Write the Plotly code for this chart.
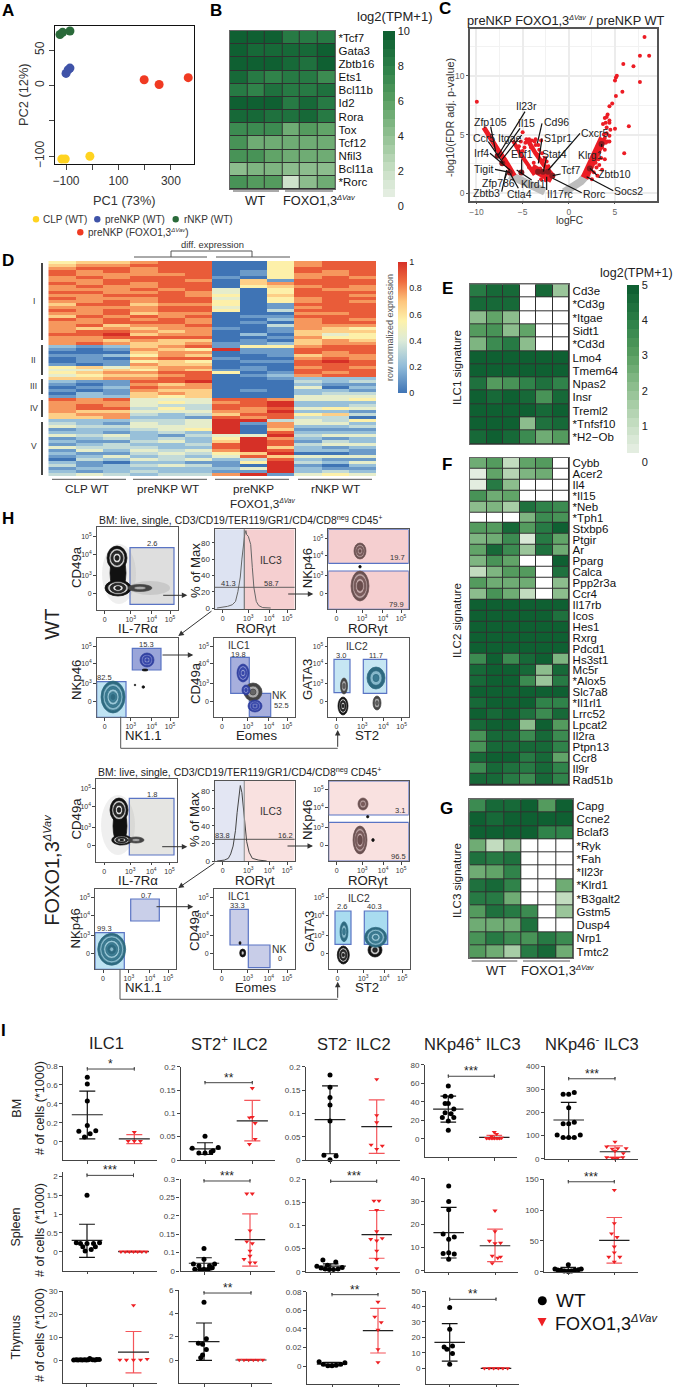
import numpy as np
import plotly.graph_objects as go

W, H = 676, 1387
FONT = "Liberation Sans"
DV = "<sup><i>ΔVav</i></sup>"


def dv(px):
    return '<sup><span style="font-size:%gpx"><i>ΔVav</i></span></sup>' % px


# ---------- Panel A ----------
pca_groups = ["CLP", "preNKP", "rNKP", "preNKP_FOXO"]
pc1_clp = [-116, -103, -9]; pc2_clp = [-104, -104, -100]
pc1_pre = [-100, -92, -85]; pc2_pre = [17, 22, 24.5]
pc1_rnk = [-123, -113, -85]; pc2_rnk = [72, 75, 77]
pc1_fox = [198, 255, 366]; pc2_fox = [8, 1.4, 11]

# ---------- Panel B ----------
b_genes = ["*Tcf7", "Gata3", "Zbtb16", "Ets1", "Bcl11b", "Id2", "Rora", "Tox", "Tcf12", "Nfil3", "Bcl11a", "*Rorc"]
b_vals = [[9.8, 9.7, 9.8, 8.3, 8.4, 8.4], [9.7, 9.3, 9.2, 9.4, 9.3, 9.9], [9.8, 9.9, 9.8, 9.3, 8.7, 9.5],
          [9.0, 8.2, 7.9, 8.1, 8.0, 7.3], [8.2, 7.7, 8.5, 8.4, 8.0, 8.5], [9.9, 10, 9.7, 8.0, 9.0, 8.4],
          [9.0, 9.0, 8.8, 8.6, 9.0, 8.0], [7.0, 7.2, 7.0, 5.2, 6.4, 5.8], [6.6, 5.2, 5.4, 5.4, 5.3, 5.0],
          [6.6, 6.6, 5.8, 5.3, 5.4, 5.2], [4.3, 4.8, 4.7, 4.2, 4.0, 4.4], [6.6, 6.3, 6.2, 1.5, 4.4, 5.2]]

# ---------- Panel C ----------
volc_right_x = [8.2, 7.7, 8.7, 5.9, 7.0, 5.2, 5.1, 5.0, 7.7, 5.8, 5.1, 4.7, 4.4, 6.5, 6.0, 4.1, 3.9, 4.2, 4.4, 4.0, 4.4, 3.7, 4.1, 4.5, 5.0, 4.1, 4.4, 3.8, 3.9, 4.2, 4.0, 3.5, 3.9, 3.3, 3.6, 3.1, 2.9, 4.4, 3.3, 2.5, 3.9, 3.6, 3.2, 3.0, 2.7]
volc_right_y = [13.3, 11.7, 11.7, 11.0, 10.8, 10.0, 9.86, 9.6, 9.46, 8.64, 8.27, 7.65, 7.4, 5.7, 3.4, 6.5, 6.4, 6.7, 6.2, 6.0, 6.0, 5.9, 5.6, 5.4, 5.5, 5.1, 4.9, 5.0, 4.7, 4.4, 4.3, 3.0, 2.9, 2.4, 2.0, 1.5, 2.6, 4.4, 3.5, 1.2, 3.7, 3.9, 2.9, 2.2, 1.8]
volc_left_x = [-9.96, -5.0, -4.6, -4.3, -4.0, -3.7, -3.6, -3.3, -3.2, -2.9, -4.7, -5.2, -5.4, -3.0, -3.6, -2.6, -2.4, -2.2, -5.0, -3.0, -2.5, -4.3, -4.8, -4.1, -3.4, -2.8, -3.8, -3.1, -2.3]
volc_left_y = [7.8, 5.2, 4.6, 4.6, 4.5, 4.4, 4.1, 4.1, 3.7, 3.4, 4.3, 4.4, 4.0, 4.5, 4.6, 3.0, 2.7, 2.3, 3.6, 1.2, 1.1, 2.2, 3.9, 3.9, 3.3, 2.8, 2.6, 2.1, 1.9]
volc_dark_x = [3.55, 2.28, -1.78, -2.25, -2.8, -3.33, -5.14, -6.4, -7.2, -7.7]
volc_dark_y = [4.2, 2.1, 1.5, 1.84, 1.84, 1.84, 1.76, 1.78, 2.55, 3.2]
band_a_x = [-9.2, -8.4, -7.6, -6.9, -6.3, -5.9]; band_a_y = [5.6, 4.5, 3.6, 2.8, 2.1, 1.5]
band_b_x = [-6.05, -5.2, -4.4, -3.7]; band_b_y = [4.5, 3.3, 2.4, 1.56]
band_c_x = [-4.5, -3.6, -2.7, -1.7]; band_c_y = [4.6, 3.4, 2.4, 1.5]
band_d_x = [-4.0, -3.2, -2.4, -1.8]; band_d_y = [2.2, 1.8, 1.5, 1.2]
band_e_x = [1.7, 2.2, 2.8, 3.3, 3.7]; band_e_y = [1.3, 2.2, 3.3, 4.2, 4.7]
gray_l_x = [-6.4, -5.0, -3.8, -2.6]; gray_l_y = [1.55, 1.0, 0.5, 0.15]
gray_r_x = [-0.5, 0.5, 1.3, 2.1]; gray_r_y = [0.1, 0.5, 1.0, 1.7]
volc_labels = ["Il23r", "Zfp105", "Il15", "Cd96", "Cxcr5", "Ccr5", "Itgae", "S1pr1", "Irf4", "Ebf1", "Stat4", "Klrg1", "Tigit", "Tcf7", "Zbtb10", "Zfp786", "Klrd1", "Zbtb3", "Ctla4", "Il17rc", "Rorc", "Socs2"]

# ---------- Panel D ----------
d_block1 = ["566 788 005 788", "677 888 005 788", "788 788 005 888", "878 788 015 878", "877 778 015 778", "787 888 105 787",
            "778 887 061 888", "878 788 067 888", "787 788 056 787", "777 878 405 877", "887 787 405 888", "778 887 506 887",
            "877 788 405 788", "778 788 505 787", "688 677 501 888", "777 788 401 788", "878 788 503 888", "778 677 000 778",
            "687 878 011 888", "878 787 002 787", "778 887 010 788", "786 778 003 777", "767 677 101 765", "788 767 001 666",
            "889 677 020 645", "778 888 001 755", "776 766 010 676", "787 667 112 677"]
d_block2 = ["212 678 155 788", "101 765 911 888", "000 677 011 878", "112 576 001 677", "010 788 100 787", "011 565 011 898",
            "101 766 000 888", "564 677 010 787", "446 576 110 888", "567 788 501 878", "456 678 012 788"]
d_block3 = ["667 788 001 222", "211 889 000 323", "101 767 000 211", "012 877 000 402", "101 766 010 221", "021 676 000 233", "122 656 000 444"]
d_block4 = ["878 444 887 445", "777 454 789 222", "787 433 889 223", "788 353 878 454", "766 444 779 221", "677 323 688 563", "667 221 878 330"]
d_block5 = ["222 334 993 435", "321 434 917 442", "433 444 907 223", "122 345 906 111", "221 232 908 222", "434 213 449 344",
            "123 232 597 212", "211 342 698 132", "123 223 898 344", "433 322 896 212", "142 434 798 221", "211 343 569 001",
            "124 232 486 444", "032 434 238 211", "210 221 159 324", "312 343 109 102", "122 222 249 211", "212 322 119 232", "343 233 791 454"]

# ---------- Panels E, F, G ----------
e_genes = ["Cd3e", "*Cd3g", "*Itgae", "Sidt1", "*Cd3d", "Lmo4", "Tmem64", "Npas2", "Insr", "Treml2", "*Tnfsf10", "*H2−Ob"]
e_vals = [[4.1, 4.6, 4.5, 0, 4.6, 1.8], [4.6, 4.6, 4.6, 0, 0, 0], [2.2, 2.9, 2.2, 0, 0, 0], [3.0, 3.4, 2.2, 2.8, 0, 0],
          [2.4, 3.5, 4.2, 2.1, 0, 0], [4.9, 4.9, 4.9, 4.8, 4.9, 4.9], [4.8, 4.9, 4.9, 4.8, 4.9, 4.9], [4.4, 3.2, 3.3, 3.8, 4.3, 3.8],
          [4.9, 4.7, 4.8, 4.6, 3.4, 4.6], [5, 5, 5, 4.9, 4.6, 4.8], [4.8, 4.8, 4.8, 2, 4.3, 4.7], [4.7, 4.8, 4.7, 3.5, 2.6, 3.2]]
f_genes = ["Cybb", "Acer2", "Il4", "*Il15", "*Neb", "*Tph1", "Stxbp6", "Ptgir", "Ar", "Pparg", "Calca", "Ppp2r3a", "Ccr4", "Il17rb", "Icos",
           "Hes1", "Rxrg", "Pdcd1", "Hs3st1", "Mc5r", "*Alox5", "Slc7a8", "*Il1rl1", "Lrrc52", "Lpcat2", "Il2ra", "Ptpn13", "Ccr8", "Il9r", "Rad51b"]
f_vals = [[2.6, 3.2, 1.0, 2.8, 3.1, 0], [0.3, 2.8, 1.4, 2.3, 2.5, 0], [0.3, 4.0, 2.2, 0, 0, 0], [3.4, 2.5, 2.9, 0, 0, 0],
          [2.2, 2.4, 1.5, 4.3, 3.8, 3.6], [0, 0, 0, 2.4, 3.7, 3.3], [3.0, 3.2, 4.5, 3.0, 4.1, 4.9], [2.3, 2.6, 3.6, 0.5, 4.1, 2.9],
          [2.9, 4.6, 3.6, 1.9, 4.4, 2.7], [2.4, 3.4, 2.8, 0, 0, 4.8], [1.0, 2.4, 3.2, 3.0, 0, 4.4], [3.0, 2.7, 2.7, 2.6, 0, 2.0],
          [2.0, 3.4, 2.7, 1.2, 0, 2.1], [4.8, 4.8, 4.8, 4.8, 4.8, 4.8], [4.9, 4.9, 4.9, 4.8, 4.9, 4.4], [4.9, 4.9, 4.9, 4.8, 4.9, 4.9],
          [4.9, 4.9, 4.9, 4.9, 4.9, 4.8], [4.8, 4.8, 4.9, 4.8, 4.9, 4.8], [3.5, 4.8, 3.5, 4.7, 4.8, 2.4], [4.7, 4.8, 4.8, 4.5, 2.2, 4.7],
          [4.7, 4.8, 4.8, 3.5, 1.8, 4.0], [4.9, 4.9, 4.9, 4.8, 4.8, 4.8], [4.7, 4.8, 4.8, 4.8, 3.8, 3.9], [4.8, 4.7, 4.8, 4.4, 3.6, 4.6],
          [4.7, 4.8, 4.8, 2.2, 4.8, 3.0], [3.4, 4.7, 4.7, 3.7, 4.7, 3.6], [3.4, 4.7, 4.7, 4.7, 4.7, 3.8], [4.7, 4.8, 4.8, 4.1, 4.7, 2.8],
          [3.7, 4.6, 4.3, 4.1, 4.7, 3.8], [4.5, 4.5, 4.0, 3.5, 4.6, 3.8]]
g_genes = ["Capg", "Ccne2", "Bclaf3", "*Ryk", "*Fah", "*Il23r", "*Klrd1", "*B3galt2", "Gstm5", "Dusp4", "Nrp1", "Tmtc2"]
g_vals = [[3.5, 4.7, 4.7, 4.8, 3.0, 4.8], [4.8, 4.5, 4.8, 4.8, 4.8, 4.8], [4.8, 4.8, 4.8, 4.8, 3.9, 3.9], [2.6, 1.2, 2.0, 0, 0, 0],
          [4.4, 4.2, 4.4, 0, 0, 0], [2.6, 2.8, 3.9, 0, 0, 0], [4.4, 4.6, 3.8, 0, 0, 2.6], [4.1, 4.0, 2.5, 0, 0, 1.2],
          [3.2, 4.4, 4.0, 3.6, 0, 1.8], [2.6, 2.7, 2.5, 4.4, 0, 0], [3.4, 4.1, 3.5, 3.3, 4.0, 3.6], [3.2, 2.6, 1.6, 4.1, 4.7, 2.6]]

# ---------- Panel H histograms ----------
hist_wt_x = [.03, .10, .16, .22, .26, .29, .32, .34, .36, .375, .39, .40, .42, .45, .47, .49, .52, .55, .6, .7]
hist_wt_y = [0, 1, 2, 4, 8, 20, 38, 60, 78, 90, 95, 90, 88, 78, 50, 25, 8, 3, .5, 0]
hist_ko_x = [.03, .12, .17, .2, .23, .26, .28, .30, .31, .32, .34, .36, .38, .40, .43, .47, .55, .65]
hist_ko_y = [0, 1, 3, 8, 17, 35, 55, 75, 85, 86, 78, 60, 40, 22, 10, 3, 1, 0]

# ---------- Panel I: offsets from category and values; stats = mean, upper, lower ----------
bm_ilc1_wt_off = [0, 0, 0, 0, -.18, .18, .06, -.06]; bm_ilc1_wt_y = [.68, .61, .43, .17, .11, .115, .085, .05]
bm_ilc1_ko_off = [0, -.13, 0, .13]; bm_ilc1_ko_y = [.1, .007, .007, .007]
bm_ilc1_stats = [[.285, .535, .03], [.03, .075, -.02]]
bm_st2p_wt_off = [-.27, -.13, 0, .13, .28, 0, .17]; bm_st2p_wt_y = [.025, .015, .015, .017, .027, .051, .02]
bm_st2p_ko_off = [0, -.06, .06, 0, .06, -.06]; bm_st2p_ko_y = [.154, .091, .079, .092, .045, .034]
bm_st2p_stats = [[.024, .037, .012], [.084, .128, .041]]
bm_st2n_wt_off = [0, 0, 0, 0, 0, -.13, .13, 0]; bm_st2n_wt_y = [.182, .156, .134, .118, .084, .011, .009, .001]
bm_st2n_ko_off = [0, 0, 0, -.12, .12, 0]; bm_st2n_ko_y = [.173, .096, .081, .033, .031, .024]
bm_st2n_stats = [[.087, .159, .014], [.072, .129, .015]]
bm_nkp_wt_off = [0, -.07, .06, -.07, 0, .12, .06, -.07, -.13, .12, 0, 0]; bm_nkp_wt_y = [57, 46, 46, 38, 38, 32, 27, 28, 23, 23, 19, 9]
bm_nkp_ko_off = [0, .05, -.06, -.17, -.11, -.05, 0, .06, .11, .16]; bm_nkp_ko_y = [7, 5, 2.5, .5, .4, .4, .4, .4, .4, 1]
bm_nkp_stats = [[32, 46, 18], [1.5, 3.6, -.4]]
bm_nkn_wt_off = [.12, -.12, 0, 0, -.12, .12, 0, -.25, .25, -.12, 0, .12]; bm_nkn_wt_y = [286, 278, 278, 220, 151, 157, 151, 102, 102, 92, 92, 92]
bm_nkn_ko_off = [0, -.18, .24, -.06, .06, .18, 0, -.18, -.06, 0, .06, .17]; bm_nkn_ko_y = [73, 52, 45, 42, 44, 23, 33, 6, 3, 0, 3, 6]
bm_nkn_stats = [[167, 243, 90], [30, 55, 6]]
sp_ilc1_wt_off = [0, -.23, -.14, 0, .14, .27, -.09, .18, .09, -.04]; sp_ilc1_wt_y = [1.5, .24, .22, .22, .22, .24, .13, .13, .06, .02]
sp_ilc1_ko_off = [-.27, -.18, -.09, 0, .09, .18, .27]; sp_ilc1_ko_y = [0, 0, 0, 0, 0, 0, 0]
sp_ilc1_stats = [[.30, .73, -.15], [0, .01, -.01]]
sp_st2p_wt_off = [0, 0, -.23, .23, -.11, .12, -.2, -.09, 0, .09, .18]; sp_st2p_wt_y = [.111, .082, .069, .069, .064, .064, .055, .055, .055, .055, .059]
sp_st2p_ko_off = [-.07, .05, 0, -.07, .05, 0, 0, -.13, .11, 0]; sp_st2p_ko_y = [.26, .26, .16, .13, .125, .091, .105, .082, .073, .073]
sp_st2p_stats = [[.071, .086, .053], [.135, .205, .063]]
sp_st2n_wt_off = [-.17, -.3, .11, -.21, -.12, -.03, .06, .16, .25, -.07]; sp_st2n_wt_y = [.025, .012, .021, .008, .006, .005, .005, .006, .009, .014]
sp_st2n_ko_off = [-.06, .05, 0, 0, -.13, .12, 0, 0, 0, 0]; sp_st2n_ko_y = [.153, .153, .133, .087, .07, .072, .067, .045, .027, .007]
sp_st2n_stats = [[.012, .017, .004], [.08, .132, .029]]
sp_nkp_wt_off = [0, 0, 0, -.12, .12, 0, -.12, 0, .12, 0]; sp_nkp_wt_y = [36.7, 30, 26.4, 15.9, 14.6, 13.6, 7.5, 7.8, 7.2, 5]
sp_nkp_ko_off = [0, 0, -.12, 0, .12, -.06, .12, .06, -.06]; sp_nkp_ko_y = [26, 17, 12.9, 11.8, 12, 6.4, 6, 5.5, 3.2]
sp_nkp_stats = [[16.5, 27.4, 5.5], [10.8, 18, 3.9]]
sp_nkn_wt_off = [0, -.29, .28, -.23, -.16, -.09, 0, .07, .14, .22]; sp_nkn_wt_y = [11.4, 4.3, 4.3, 2.8, 2.2, 1, .5, 1, 2.2, 3.3]
sp_nkn_ko_off = [0, 0, -.06, .06, 0, 0, -.12, .12, 0]; sp_nkn_ko_y = [132.6, 78.5, 62, 56, 40.6, 31, 24, 24, 16]
sp_nkn_stats = [[3.8, 7, .5], [51, 88, 14]]
th_ilc1_wt_off = [-.27, -.22, -.18, -.13, -.09, -.04, 0, .04, .07, .13, .18, .22, .27]; th_ilc1_wt_y = [0, .1, 0, .1, 0, .1, 0, .1, .7, .1, 0, .2, .2]
th_ilc1_ko_off = [0, -.29, -.15, 0, .15, .29]; th_ilc1_ko_y = [23.8, .1, 0, 0, .1, .4]
th_ilc1_stats = [[0, .3, -.3], [3.4, 12.4, -5.6]]
th_st2p_wt_off = [0, .05, -.12, -.03, .05, -.03, -.07]; th_st2p_wt_y = [4.95, 1.83, 1.43, 1.34, .91, .43, .2]
th_st2p_ko_off = [-.25, -.15, -.05, .05, .15, .25]; th_st2p_ko_y = [0, 0, 0, 0, 0, 0]
th_st2p_stats = [[1.57, 3.17, -.03], [0, .01, -.01]]
th_st2n_wt_off = [-.28, .28, -.19, -.09, 0, .09, .19]; th_st2n_wt_y = [.0047, .0036, .002, .0004, .0002, .0007, .0018]
th_st2n_ko_off = [0, -.07, .07, 0, 0, 0]; th_st2n_ko_y = [.069, .053, .047, .039, .018, .004]
th_st2n_stats = [[.002, .004, .0004], [.038, .062, .014]]
th_nkp_wt_off = [0, 0, -.12, -.06, .06, .06, 0]; th_nkp_wt_y = [39.4, 25.2, 13.8, 12.3, 14.4, 9.5, 2.6]
th_nkp_ko_off = [-.25, -.15, -.05, .05, .15, .25]; th_nkp_ko_y = [0, 0, 0, 0, 0, 0]
th_nkp_stats = [[16.8, 28.9, 4.7], [0, .3, -.3]]

# ---------- helpers ----------
X = lambda p: p / W
Y = lambda p: 1 - p / H
fig = go.Figure()
layout_axes = {}
shapes = []
annots = []
_n = [0]


def new_axes(x0, x1, y0, y1, xo, yo):
    _n[0] += 1
    i = _n[0]
    s = "" if i == 1 else str(i)
    layout_axes["xaxis" + s] = dict(domain=[X(x0), X(x1)], anchor="y" + s, zeroline=False, showgrid=False, automargin=False, **xo)
    layout_axes["yaxis" + s] = dict(domain=[Y(y1), Y(y0)], anchor="x" + s, zeroline=False, showgrid=False, automargin=False, **yo)
    return "x" + s, "y" + s


def T(text, x, y, size=10, color="#222", anchor="left", rot=0, bold=False):
    if bold:
        text = "<b>" + text + "</b>"
    annots.append(dict(text=text, x=X(x), y=Y(y), xref="paper", yref="paper", showarrow=False, xanchor=anchor,
                       yanchor="middle", textangle=rot, font=dict(size=size, color=color, family=FONT)))


def L(x0, y0, x1, y1, color="#333", w=1.0):
    shapes.append(dict(type="line", x0=X(x0), x1=X(x1), y0=Y(y0), y1=Y(y1), xref="paper", yref="paper",
                       line=dict(color=color, width=w), layer="above"))


def arrow(x0, y0, x1, y1):
    annots.append(dict(x=X(x1), y=Y(y1), xref="paper", yref="paper", ax=x0 - x1, ay=y0 - y1, axref="pixel", ayref="pixel",
                       text="", showarrow=True, arrowhead=2, arrowsize=1.1, arrowwidth=1, arrowcolor="#333"))


def green_scale():
    anchors = [(0.05, "#e9f0e6"), (0.2, "#c9e0c6"), (0.4, "#94c294"), (0.6, "#5aa062"), (0.8, "#2b7f47"), (1.0, "#0c5c30")]
    ts = [a[0] for a in anchors]
    cs = np.array([[int(a[1][i:i + 2], 16) for i in (1, 3, 5)] for a in anchors])
    n = 20
    out = []
    for k in range(n):
        a, b = k / n, (k + 1) / n
        if k == 0:
            col = "#ffffff"
        else:
            c = [int(np.interp((a + b) / 2, ts, cs[:, j])) for j in range(3)]
            col = "rgb(%d,%d,%d)" % tuple(c)
        out += [[a, col], [b, col]]
    return out


GREENS = green_scale()


def colorbar(x0, x1, yt, yb, ticks, size):
    return dict(x=X(x0), xanchor="left", y=Y(yb), yanchor="bottom", lenmode="pixels", len=yb - yt,
                thicknessmode="pixels", thickness=x1 - x0, xpad=0, ypad=0, outlinewidth=0, ticks="",
                tickvals=ticks, tickfont=dict(size=size, color="#222", family=FONT))


def heat(vals, genes, x0, x1, y0, y1, zmax, size, cbar=None):
    xa, ya = new_axes(x0, x1, y0, y1,
                      dict(range=[-.5, 5.5], showticklabels=False, ticks="", showline=True, mirror=True, linecolor="#666", linewidth=1),
                      dict(range=[len(genes) - .5, -.5], side="right", tickvals=list(range(len(genes))), ticktext=genes, ticks="",
                           tickfont=dict(size=size, color="#111", family=FONT), showline=True, mirror=True, linecolor="#666", linewidth=1))
    shapes.append(dict(type="rect", x0=X(x0), x1=X(x1), y0=Y(y1), y1=Y(y0), xref="paper", yref="paper",
                       fillcolor="#303030", line=dict(width=0), layer="below"))
    fig.add_trace(go.Heatmap(z=vals, xaxis=xa, yaxis=ya, colorscale=GREENS, zmin=0, zmax=zmax, xgap=1, ygap=1,
                             hoverinfo="skip", showscale=cbar is not None, colorbar=cbar))


# ---------- A ----------
xa, ya = new_axes(55, 194, 26, 164,
                  dict(range=[-142, 388], tickvals=[-100, 0, 100, 200, 300], ticktext=["−100", " ", "100", " ", "300"], ticks="outside", ticklen=5,
                       showline=True, mirror=True, linecolor="#111", linewidth=1.3, tickfont=dict(size=12, color="#333", family=FONT)),
                  dict(range=[-111, 84], tickvals=[-100, -50, 0, 50], ticktext=["−100", " ", "0", "50"], ticks="outside", ticklen=5, tickangle=-90,
                       showline=True, mirror=True, linecolor="#111", linewidth=1.3, tickfont=dict(size=12, color="#333", family=FONT)))
for px_, py_, c in [(pc1_clp, pc2_clp, "#ffd320"), (pc1_pre, pc2_pre, "#3f53a8"), (pc1_rnk, pc2_rnk, "#2a6a3a"), (pc1_fox, pc2_fox, "#f03a22")]:
    fig.add_trace(go.Scatter(x=px_, y=py_, xaxis=xa, yaxis=ya, mode="markers", marker=dict(size=9, color=c), hoverinfo="skip", cliponaxis=False))
T("PC1 (73%)", 124, 201, 12.8, "#333", "center")
T("PC2 (12%)", 23, 95, 12.8, "#333", "center", -90)
for cx, cy, c, tx, s in [(36, 219.3, "#ffd320", 40.7, "CLP (WT)"), (97.3, 219.3, "#3f53a8", 102.7, "preNKP (WT)"),
                         (175.7, 219.3, "#2a6a3a", 181.7, "rNKP (WT)"), (80.3, 232.3, "#f03a22", 86, "preNKP (FOXO1,3" + dv(6) + ")")]:
    shapes.append(dict(type="circle", x0=X(cx - 3.2), x1=X(cx + 3.2), y0=Y(cy + 3.2), y1=Y(cy - 3.2), xref="paper", yref="paper",
                       fillcolor=c, line=dict(width=0)))
    T(s, tx, cy, 10, "#333")

# ---------- B ----------
heat(b_vals, b_genes, 229.7, 335.3, 31, 189, 10, 11.5, colorbar(383, 395, 31, 205.7, [0, 2, 4, 6, 8, 10], 11))
L(233, 191, 279, 191, "#555", 1); L(285, 191, 333, 191, "#555", 1)
T("WT", 255, 200, 13, "#222", "center")
T("FOXO1,3" + dv(7.5), 281, 200, 12.8, "#222")
T("log2(TPM+1)", 355, 16, 13)

# ---------- C ----------
grid_col = "#ececec"
xa, ya = new_axes(470, 657, 29, 200.7,
                  dict(range=[-10.7, 9.55], tickvals=[-10, -5, 0, 5], ticktext=["−10", "−5", "0", "5"], ticks="outside", ticklen=2, showline=True, mirror=True,
                       linecolor="#555", linewidth=1.5, tickfont=dict(size=8.5, color="#666", family=FONT), tickcolor="#555"),
                  dict(range=[-0.63, 13.98], tickvals=[0, 5, 10], ticks="outside", ticklen=2, showline=True, mirror=True,
                       linecolor="#555", linewidth=1.5, tickfont=dict(size=8.5, color="#666", family=FONT), tickcolor="#555"))
layout_axes[xa.replace("x", "xaxis")].update(showgrid=True, gridcolor=grid_col, gridwidth=1.6, minor=dict(showgrid=True, gridcolor="#f2f2f2", gridwidth=.8, tickvals=[-7.5, -2.5, 2.5, 7.5]))
layout_axes[ya.replace("y", "yaxis")].update(showgrid=True, gridcolor=grid_col, gridwidth=1.6, minor=dict(showgrid=True, gridcolor="#f2f2f2", gridwidth=.8, tickvals=[2.5, 7.5, 12.5]))
for bx, by in [(gray_l_x, gray_l_y), (gray_r_x, gray_r_y)]:
    fig.add_trace(go.Scatter(x=bx, y=by, xaxis=xa, yaxis=ya, mode="lines", line=dict(color="#bdbdbd", width=8), hoverinfo="skip"))
for bx, by, w in [(band_a_x, band_a_y, 5), (band_b_x, band_b_y, 4), (band_c_x, band_c_y, 4.5), (band_d_x, band_d_y, 8), (band_e_x, band_e_y, 8)]:
    fig.add_trace(go.Scatter(x=bx, y=by, xaxis=xa, yaxis=ya, mode="lines", line=dict(color="#ec1c24", width=w), hoverinfo="skip"))
fig.add_trace(go.Scatter(x=volc_right_x + volc_left_x, y=volc_right_y + volc_left_y, xaxis=xa, yaxis=ya, mode="markers",
                         marker=dict(size=4, color="#ec1c24"), hoverinfo="skip"))
fig.add_trace(go.Scatter(x=volc_dark_x, y=volc_dark_y, xaxis=xa, yaxis=ya, mode="markers", marker=dict(size=6, color="#8c1a1e"), hoverinfo="skip"))
vz = [(590, 318, 585, 335, 505, 465), (482, 366, 482, 380, 497, 455), (590, 368, 570, 385, 510, 470), (680, 367, 636, 370, 622, 430),
      (795, 400, 750, 400, 655, 510), (462, 413, 475, 425, 520, 490), (540, 415, 575, 405, 515, 480), (684, 414, 636, 415, 625, 490),
      (453, 460, 480, 460, 540, 510), (576, 463, 575, 478, 575, 520), (672, 463, 650, 470, 640, 515), (780, 465, 815, 440, 815, 432),
      (462, 508, 495, 508, 540, 517), (722, 510, 692, 522, 668, 527), (852, 522, 800, 525, 780, 505), (505, 550, 525, 535, 530, 520),
      (610, 552, 605, 540, 560, 510), (470, 580, 515, 575, 530, 510), (568, 581, 565, 565, 540, 520), (690, 581, 650, 570, 650, 530),
      (792, 581, 755, 578, 668, 535), (896, 573, 850, 572, 770, 530)]
for name, (tx, ty, lx0, ly0, lx1, ly1) in zip(volc_labels, vz):
    if lx0 != lx1 or ly0 != ly1:
        L(330 + lx0 / 3, ly0 / 3, 330 + lx1 / 3, ly1 / 3, "#111", 1.2)
    T(name, 330 + tx / 3, ty / 3, 10.5, "#222", "center")
T("preNKP FOXO1,3" + dv(7) + " / preNKP WT", 465, 20, 12.8)
T("logFC", 569, 220, 10.2, "#333", "center")
T("-log10(FDR adj. p-value)", 450, 118, 10.9, "#333", "center", -90)

# ---------- D ----------
d_rows = d_block1 + d_block2 + d_block3 + d_block4 + d_block5
d_z = [[int(ch) / 9 for ch in r.replace(" ", "")] for r in d_rows]
RDYLBU = [[0, "#3f74b5"], [.2, "#90bbd9"], [.4, "#dcebd8"], [.55, "#fdf2ab"], [.7, "#fdc57d"], [.85, "#ef6c3f"], [1, "#d63027"]]
xa, ya = new_axes(48.3, 376, 261, 476, dict(range=[-.5, 11.5], visible=False), dict(range=[len(d_rows) - .5, -.5], visible=False))
fig.add_trace(go.Heatmap(z=d_z, xaxis=xa, yaxis=ya, colorscale=RDYLBU, zmin=0, zmax=1, hoverinfo="skip",
                         colorbar=colorbar(397.7, 406.7, 262, 393, [0, .2, .4, .6, .8, 1], 9)))
for y0, y1, s, ly in [(263, 340, "I", 301), (345, 375, "II", 360), (379, 394, "III", 386), (400, 417, "IV", 408), (422, 475, "V", 446)]:
    L(42, y0, 42, y1, "#333", 1.8)
    T(s, 33.5, ly, 8.5, "#333", "center")
T("diff. expression", 212, 245, 9.4, "#333", "center")
for a in [(134, 257, 207, 257), (171, 257, 171, 251), (171, 251, 252, 251), (252, 251, 252, 257), (216, 257, 290, 257)]:
    L(*a, "#555", 1)
for a, b in [(52, 126), (133, 207), (215, 289), (298, 372)]:
    L(a, 479.3, b, 479.3, "#555", 1)
T("CLP WT", 87, 488, 11.7, "#222", "center")
T("preNKP WT", 168, 488, 11.7, "#222", "center")
T("preNKP", 253, 488, 11.7, "#222", "center")
T("FOXO1,3" + dv(6.5), 262, 503, 11.7, "#222", "center")
T("rNKP WT", 335, 488, 11.7, "#222", "center")
T("row normalized expression", 390, 327, 9, "#555", "center", -90)

# ---------- E F G ----------
heat(e_vals, e_genes, 470, 569.3, 284.3, 444, 5, 11.5, colorbar(626.7, 639, 284.3, 461.7, [0, 1, 2, 3, 4, 5], 11))
heat(f_vals, f_genes, 470, 569.3, 457.7, 785, 5, 11.5)
heat(g_vals, g_genes, 469.3, 573.3, 799.3, 958.3, 5, 11.5)
T("log2(TPM+1)", 598, 273, 12.5)
T("ILC1 signature", 457, 367, 11.5, "#222", "center", -90)
T("ILC2 signature", 457, 620, 11.5, "#222", "center", -90)
T("ILC3 signature", 457, 880, 11.5, "#222", "center", -90)
L(471.7, 961, 517.3, 961, "#555", 1); L(523, 961, 570, 961, "#555", 1)
T("WT", 496, 970, 13, "#222", "center")
T("FOXO1,3" + dv(7.5), 519, 970, 13, "#222")

# ---------- H ----------
TICKX = [.10, .42, .68, .905]; TICKY = [.2, .42, .67, .89]
TTXT = ["0", "10<sup>3</sup>", "10<sup>4</sup>", "10<sup>5</sup>"]
PAL = {"k": ["#111", "#c8c8c8", "#2a2a2a", "#dedede", "#222"], "teal": ["#2e6a80", "#86b8ca", "#3b7b92", "#9ac8d8", "#3f7f96"],
       "blue": ["#2f3f9f", "#8a94d6", "#3a4ab0", "#a3addf", "#3a4ab0"], "brown": ["#6a5050", "#bba2a2", "#7a5a5a", "#c8aeae", "#6a4a4a"],
       "gray": ["#444", "#aaa", "#666", "#ccc", "#666"]}


class Flow:
    def __init__(s, x0, x1, y0, y1, hist=None):
        s.b = (x0, x1, y0, y1)
        tf = dict(size=7, color="#333", family=FONT)
        xo = dict(range=[0, 1], tickvals=TICKX, ticktext=TTXT, ticks="outside", ticklen=2.5, showline=True, mirror=True, linecolor="#555", linewidth=1.2, tickfont=tf, tickcolor="#444")
        if hist:
            s.yr = hist
            yo = dict(range=hist, tickvals=[0, 20, 40, 60, 80], ticks="outside", ticklen=2, showline=True, mirror=True, linecolor="#555", linewidth=1.2, tickfont=dict(size=8, color="#333", family=FONT), tickcolor="#444")
        else:
            s.yr = [0, 1]
            yo = dict(range=[0, 1], tickvals=TICKY, ticktext=TTXT, ticks="outside", ticklen=2.5, showline=True, mirror=True, linecolor="#555", linewidth=1.2, tickfont=tf, tickcolor="#444")
        s.xa, s.ya = new_axes(x0, x1, y0, y1, xo, yo)

    def fx(s, p):
        return (p - s.b[0]) / (s.b[1] - s.b[0])

    def fy(s, p):
        return s.yr[0] + (s.b[3] - p) / (s.b[3] - s.b[2]) * (s.yr[1] - s.yr[0])

    def gate(s, x0, x1, y0, y1, fill, line="#5a74c4", layer="above"):
        shapes.append(dict(type="rect", xref=s.xa, yref=s.ya, x0=s.fx(x0), x1=s.fx(x1), y0=s.fy(y1), y1=s.fy(y0), fillcolor=fill,
                           line=dict(color=line, width=1.2) if line else dict(width=0), layer=layer))

    def blob(s, cx, cy, rx, ry, pal="k", rings=5):
        cols = PAL[pal]
        for k in range(rings):
            f = 1 - k / rings
            shapes.append(dict(type="circle", xref=s.xa, yref=s.ya, x0=s.fx(cx - rx * f), x1=s.fx(cx + rx * f), y0=s.fy(cy + ry * f), y1=s.fy(cy - ry * f),
                               fillcolor=cols[k % 5], line=dict(color=cols[0], width=.7)))

    def haze(s, cx, cy, rx, ry, col="#999", op=.25):
        shapes.append(dict(type="circle", xref=s.xa, yref=s.ya, x0=s.fx(cx - rx), x1=s.fx(cx + rx), y0=s.fy(cy + ry), y1=s.fy(cy - ry),
                           fillcolor=col, opacity=op, line=dict(width=0)))


# WT row
a = Flow(96.7, 177.7, 527.3, 610)
a.gate(130, 174, 547.7, 604.3, "#dedede")
a.haze(119, 574, 17, 30, "#999", .16); a.haze(150, 588, 20, 7, "#aaa", .4)
a.blob(118, 573, 8, 20, "k", 1)
a.blob(117, 558, 10, 12); a.blob(118, 588, 13, 8); a.blob(140, 588, 12, 3.5, "gray", 2)
b = Flow(214.7, 294.7, 529.3, 609.3, hist=[-1.6, 96.6])
b.gate(214.7, 244.3, 529.3, 609.3, "#dde3f2", None, "below"); b.gate(244.3, 294.7, 529.3, 609.3, "#f5cfd0", None, "below")
L(244.3, 529.3, 244.3, 609.3, "#777", 1.2); L(214.7, 587.3, 294.7, 587.3, "#555", .9)
fig.add_trace(go.Scatter(x=hist_wt_x, y=hist_wt_y, xaxis=b.xa, yaxis=b.ya, mode="lines", line=dict(color="#666", width=1), hoverinfo="skip"))
c = Flow(328.3, 408.7, 529.3, 609.3)
c.gate(328.3, 408.7, 529.3, 563.3, "#f5cfd0"); c.gate(328.3, 408.7, 571, 609.3, "#f5cfd0")
c.blob(360, 551, 6, 8, "brown"); c.blob(360, 586, 9, 15, "brown", 6); c.blob(360, 566.7, 1.3, 1.3, "k", 1)
d = Flow(96.7, 177.7, 637.7, 717.3)
d.gate(96.7, 126, 681.7, 717.3, "#bfe3f3"); d.gate(132.3, 161, 648.3, 670, "#9aa5d9")
d.blob(147, 660, 7, 7, "blue"); d.blob(113, 697, 12, 16, "teal", 6); d.blob(145, 670, 3, 1, "k", 1); d.blob(135, 685, .8, .8, "k", 1); d.blob(143.3, 687, 1.3, 1.3, "k", 1)
e = Flow(214, 294.7, 637.7, 717.3)
e.gate(230.7, 249.3, 657.3, 693.3, "#a7afdd"); e.gate(249.3, 270.7, 693.3, 716.5, "#a7afdd")
e.blob(253, 692, 9, 9, "gray", 3); e.blob(243, 673, 6, 9, "blue"); e.blob(246, 690, 4, 5, "blue", 3); e.blob(255, 706, 7, 6, "blue")
f = Flow(328.3, 409.3, 637.7, 717.3)
f.gate(334, 350, 659.3, 692.7, "#c6e6f3"); f.gate(363.3, 386.7, 659.3, 693.3, "#c6e6f3")
f.blob(343, 706, 5, 9, "k"); f.blob(344, 686, 3.5, 8, "gray", 3); f.blob(377, 703, 4, 7, "gray", 3); f.blob(376, 678, 9, 11, "teal", 3)
# FOXO row
g = Flow(96, 177.3, 779.3, 861.7)
g.gate(129.3, 174, 798.3, 855, "#e5e5e2")
g.haze(118, 825, 17, 30, "#999", .16)
g.blob(120, 826, 7, 19, "k", 1); g.blob(119, 810, 9, 12); g.blob(121.7, 840, 10, 5); g.blob(136, 840, 8, 3, "gray", 2)
h = Flow(214.7, 294.7, 781, 861, hist=[0, 91.2])
h.gate(214.7, 244.3, 781, 861, "#e3e6f3", None, "below"); h.gate(244.3, 294.7, 781, 861, "#f9e1e0", None, "below")
L(244.3, 781, 244.3, 861, "#999", 1.2); L(214.7, 839.3, 294.7, 839.3, "#444", .9)
fig.add_trace(go.Scatter(x=hist_ko_x, y=hist_ko_y, xaxis=h.xa, yaxis=h.ya, mode="lines", line=dict(color="#444", width=1), hoverinfo="skip"))
i = Flow(328.7, 408.7, 781, 861)
i.gate(328.7, 408.7, 781, 815, "#f9e1e0"); i.gate(328.7, 408.7, 822.3, 861, "#f9e1e0")
i.blob(363, 804, 5, 6, "brown", 3); i.blob(360, 840, 7, 14, "brown", 6); i.blob(367.7, 816.7, 1.2, 1.2, "k", 1); i.blob(373, 840, 1.3, 1.5, "k", 1)
j = Flow(95, 175.7, 889, 969.3)
j.gate(95, 124.3, 932.7, 969.3, "#bfe3f3"); j.gate(130.7, 159.3, 899, 921, "#c9cfe9")
j.blob(111.7, 949.3, 14, 16, "teal", 7)
k_ = Flow(213.7, 294.7, 889, 969.3)
k_.gate(230, 248.3, 909.3, 945, "#c8cde8"); k_.gate(248.3, 270, 945, 967.7, "#c8cde8")
k_.blob(242.7, 953, 3, 4, "k", 2); k_.blob(240, 943, 1, 1.5, "k", 1)
l_ = Flow(329.3, 410, 889, 969.3)
l_.gate(335, 351, 911, 944.3, "#a9dcf0"); l_.gate(364.3, 387.7, 911, 944.3, "#a9dcf0")
l_.blob(343.3, 955, 6, 9, "k"); l_.blob(375, 950, 7, 7, "k", 3); l_.blob(344, 931.7, 4, 10, "teal", 3); l_.blob(375.7, 937.3, 11, 10, "teal", 5)

ttl = "BM: live, single, CD3/CD19/TER119/GR1/CD4/CD8<sup>neg</sup> CD45<sup>+</sup>"
T(ttl, 96.7, 519, 10.4); T(ttl, 96, 771, 10.4)
S = 13.2
for s, x_, y_ in [("IL-7Rα", 137.7, 628), ("RORγt", 256, 628), ("RORγt", 368.3, 628), ("NK1.1", 143, 735), ("Eomes", 256.7, 735), ("ST2", 366.7, 735),
                  ("IL-7Rα", 137.5, 880), ("RORγt", 255, 880), ("RORγt", 368, 880), ("NK1.1", 143, 987), ("Eomes", 255, 987), ("ST2", 367, 987)]:
    T(s, x_, y_, S, "#222", "center")
for s, x_, y_ in [("CD49a", 76, 567), ("% of Max", 195, 570), ("NKp46", 307.3, 568), ("NKp46", 76, 680), ("CD49a", 195, 683), ("GATA3", 307, 680),
                  ("CD49a", 75.5, 819), ("% of Max", 194, 820), ("NKp46", 307, 820), ("NKp46", 74.5, 929), ("CD49a", 194, 930), ("GATA3", 309, 932)]:
    T(s, x_, y_, S, "#222", "center", -90)
T("WT", 51.7, 624, 20, "#222", "center", -90)
T("FOXO1,3" + dv(11), 51.7, 870, 20, "#222", "center", -90)
for s, x_, y_, z_ in [("2.6", 151.7, 543, 7.5), ("41.3", 228, 583, 7.5), ("58.7", 271, 583, 7.5), ("ILC3", 271, 560.7, 10.3), ("19.7", 397.7, 557.7, 7.5), ("79.9", 397, 604, 7.5),
                      ("82.5", 105, 677.7, 7.5), ("15.3", 146.7, 644, 7.5), ("ILC1", 239, 645.7, 10.3), ("19.8", 238, 654, 7.5), ("NK", 279, 695, 10.3), ("52.5", 281, 705, 7.5),
                      ("3.0", 341, 655.3, 7.5), ("11.7", 376, 655.3, 7.5), ("ILC2", 357.3, 646.7, 10.3),
                      ("1.8", 152, 794, 7.5), ("83.8", 222.7, 835.3, 7.5), ("16.2", 285.7, 835.3, 7.5), ("ILC3", 270.7, 811.7, 10.3), ("3.1", 400, 810, 7.5), ("96.5", 398.3, 856, 7.5),
                      ("99.3", 104, 928, 7.5), ("0.7", 145.7, 895, 7.5), ("ILC1", 239, 896.7, 10.3), ("33.3", 237.3, 905.7, 7.5), ("NK", 279.3, 949, 10.3), ("0", 280, 958, 7.5),
                      ("2.6", 341.7, 906.7, 7.5), ("40.3", 374.3, 906.7, 7.5), ("ILC2", 359, 898.7, 10.3)]:
    T(s, x_, y_, z_, "#333", "center")
arrow(161.7, 595.3, 187.3, 595.3); arrow(286.7, 594, 313.3, 594); arrow(213, 610, 178.3, 636); arrow(161, 655, 193.3, 655)
L(120.7, 716.7, 120.7, 748.3, "#555", 1); L(120.7, 748.3, 337.7, 748.3, "#555", 1); arrow(337.7, 748.3, 337.7, 730)
arrow(160.7, 846.7, 187.3, 846.7); arrow(286, 846, 313, 846); arrow(216, 862, 178.3, 888); arrow(155, 906.7, 193.3, 906.7)
L(120, 969, 120, 999.3, "#555", 1); L(120, 999.3, 337.7, 999.3, "#555", 1); arrow(337.7, 999.3, 337.7, 981.7)

# ---------- I ----------
RED = "#ee2024"


def dots(x0, x1, ybot, ytop, cx, ref, ticks, ttext, wo, wy, ko, ky, stats, bracket=None, stars=""):
    (v0, p0), (v1, p1) = ref
    sc = (v1 - v0) / (p0 - p1)
    yr = [v0 + (p0 - ybot) * sc, v0 + (p0 - ytop) * sc]
    u = cx[1] - cx[0]
    xr = [-(cx[0] - x0) / u, 1 + (x1 - cx[1]) / u]
    tf = dict(size=8, color="#444", family=FONT)
    xa, ya = new_axes(x0, x1, ytop, ybot,
                      dict(range=xr, tickvals=[0, 1], showticklabels=False, ticks="outside", ticklen=2.5, showline=True, linecolor="#444", linewidth=1.1, tickcolor="#444"),
                      dict(range=yr, tickvals=ticks, ticktext=ttext or [str(t) for t in ticks], ticks="outside", ticklen=3, showline=True, linecolor="#444", linewidth=1.1, tickcolor="#444", tickfont=tf))
    for cat, st, col, ebcol in [(0, stats[0], "#111", "#111"), (1, stats[1], RED, "#f4555a")]:
        m, hi, lo = st
        for xs, ys, cc, w in [([cat, cat], [lo, hi], ebcol, 1.2), ([cat - .17, cat + .17], [hi, hi], ebcol, 1.2), ([cat - .17, cat + .17], [lo, lo], ebcol, 1.2), ([cat - .33, cat + .33], [m, m], "#222", 1.2)]:
            fig.add_trace(go.Scatter(x=xs, y=ys, xaxis=xa, yaxis=ya, mode="lines", line=dict(color=cc, width=w), hoverinfo="skip", cliponaxis=False))
    fig.add_trace(go.Scatter(x=wo, y=wy, xaxis=xa, yaxis=ya, mode="markers", marker=dict(symbol="circle", size=5, color="#000"), hoverinfo="skip", cliponaxis=False))
    fig.add_trace(go.Scatter(x=[1 + o for o in ko], y=ky, xaxis=xa, yaxis=ya, mode="markers", marker=dict(symbol="triangle-down", size=4.5, color=RED), hoverinfo="skip", cliponaxis=False))
    if bracket is not None:
        cap = (yr[1] - yr[0]) * 0.018
        fig.add_trace(go.Scatter(x=[0, 0, 0, 1, 1, 1], y=[bracket - cap, bracket + cap, bracket, bracket, bracket + cap, bracket - cap], xaxis=xa, yaxis=ya, mode="lines",
                                 line=dict(color="#444", width=1), hoverinfo="skip", cliponaxis=False))
        annots.append(dict(text=stars, x=.5, y=bracket, xref=xa, yref=ya, showarrow=False, yanchor="bottom", yshift=-4,
                           font=dict(size=12, color="#222", family=FONT)))


dots(63.3, 157.3, 1160, 1066, (87.3, 134.3), [(0, 1141.7), (.8, 1066)], [0, .2, .4, .6, .8], ["0", "0.2", "0.4", "0.6", "0.8"], bm_ilc1_wt_off, bm_ilc1_wt_y, bm_ilc1_ko_off, bm_ilc1_ko_y, bm_ilc1_stats, .768, "*")
dots(181, 275.3, 1160, 1066.7, (205, 252.3), [(0, 1160), (.2, 1066.7)], [0, .05, .1, .15, .2], ["0", "0.05", "0.1", "0.15", "0.2"], bm_st2p_wt_off, bm_st2p_wt_y, bm_st2p_ko_off, bm_st2p_ko_y, bm_st2p_stats, .1657, "**")
dots(306, 400.3, 1160.3, 1066.7, (330, 376.7), [(0, 1160.3), (.2, 1066.7)], [0, .05, .1, .15, .2], ["0", "0.05", "0.1", "0.15", "0.2"], bm_st2n_wt_off, bm_st2n_wt_y, bm_st2n_ko_off, bm_st2n_ko_y, bm_st2n_stats)
dots(425, 517, 1157.3, 1064.7, (448.3, 494.3), [(0, 1138.7), (80, 1064.7)], [0, 20, 40, 60, 80], None, bm_nkp_wt_off, bm_nkp_wt_y, bm_nkp_ko_off, bm_nkp_ko_y, bm_nkp_stats, 67.5, "***")
dots(545, 637.7, 1158.7, 1066, (568.7, 615), [(0, 1158.7), (400, 1066)], [0, 100, 200, 300, 400], None, bm_nkn_wt_off, bm_nkn_wt_y, bm_nkn_ko_off, bm_nkn_ko_y, bm_nkn_stats, 345, "***")

dots(63.4, 157, 1270.5, 1172, (87, 133.5), [(-.5, 1270.5), (2, 1176.5)], [0, .5, 1, 1.5, 2], ["0", "0.5", "1", "1.5", "2"], sp_ilc1_wt_off, sp_ilc1_wt_y, sp_ilc1_ko_off, sp_ilc1_ko_y, sp_ilc1_stats, 2.03, "***")
dots(180.5, 275, 1271, 1179, (204, 250), [(.05, 1271), (.3, 1179)], [.05, .1, .15, .2, .25, .3], ["0", "0.1", "0.15", "0.2", "0.25", "0.3"], sp_st2p_wt_off, sp_st2p_wt_y, sp_st2p_ko_off, sp_st2p_ko_y, sp_st2p_stats, .2946, "***")
dots(306, 400, 1271.7, 1179, (330.7, 376.7), [(0, 1271.7), (.2, 1179)], [0, .05, .1, .15, .2], ["0", "0.05", "0.1", "0.15", "0.2"], sp_st2n_wt_off, sp_st2n_wt_y, sp_st2n_ko_off, sp_st2n_ko_y, sp_st2n_stats, .195, "***")
dots(425, 517.5, 1271.7, 1178.3, (448.7, 495), [(0, 1270.7), (40, 1178.3)], [0, 10, 20, 30, 40], None, sp_nkp_wt_off, sp_nkp_wt_y, sp_nkp_ko_off, sp_nkp_ko_y, sp_nkp_stats)
dots(544.3, 637.7, 1271.7, 1179.3, (568.3, 614.3), [(0, 1271.7), (150, 1179.3)], [0, 50, 100, 150], None, sp_nkn_wt_off, sp_nkn_wt_y, sp_nkn_ko_off, sp_nkn_ko_y, sp_nkn_stats, 146, "***")

dots(63.4, 157, 1383.3, 1291, (86.5, 133.5), [(0, 1360), (30, 1291)], [0, 10, 20, 30], None, th_ilc1_wt_off, th_ilc1_wt_y, th_ilc1_ko_off, th_ilc1_ko_y, th_ilc1_stats)
dots(179, 272, 1383.3, 1290, (204, 251), [(0, 1360), (6, 1290)], [0, 2, 4, 6], None, th_st2p_wt_off, th_st2p_wt_y, th_st2p_ko_off, th_st2p_ko_y, th_st2p_stats, 5.74, "**")
dots(307, 400, 1384, 1291.7, (332, 378), [(0, 1366), (.08, 1291.7)], [0, .02, .04, .06, .08], ["0", "0.02", "0.04", "0.06", "0.08"], th_st2n_wt_off, th_st2n_wt_y, th_st2n_ko_off, th_st2n_ko_y, th_st2n_stats, .0768, "**")
dots(426, 519.3, 1384, 1291, (449.7, 496), [(0, 1368.3), (50, 1291)], [0, 10, 20, 30, 40, 50], None, th_nkp_wt_off, th_nkp_wt_y, th_nkp_ko_off, th_nkp_ko_y, th_nkp_stats, 44.6, "**")

for s, x_ in [("ILC1", 106), ("ST2<sup>+</sup> ILC2", 228.7), ("ST2<sup>-</sup> ILC2", 354), ("NKp46<sup>+</sup> ILC3", 472), ("NKp46<sup>-</sup> ILC3", 592)]:
    T(s, x_, 1043, 16.5, "#222", "center")
for s, x_, y_ in [("BM", 16.7, 1108), ("Spleen", 15.5, 1227), ("Thymus", 16.4, 1337)]:
    T(s, x_, y_, 12.5, "#222", "center", -90)
for y_ in [1108, 1230, 1335]:
    T("# of cells (*1000)", 40, y_, 12.5, "#222", "center", -90)
shapes.append(dict(type="circle", x0=X(537.8), x1=X(546.8), y0=Y(1305.2), y1=Y(1296.2), xref="paper", yref="paper", fillcolor="#000", line=dict(width=0)))
shapes.append(dict(type="path", xref="paper", yref="paper", fillcolor=RED, line=dict(width=0),
                   path="M %f %f L %f %f L %f %f Z" % (X(537.5), Y(1318), X(546.5), Y(1318), X(542), Y(1326.5))))
T("WT", 554.3, 1300, 19, "#111")
T("FOXO1,3" + dv(11), 553.3, 1323, 18, "#111")

for s, x_, y_ in [("A", 8, 10), ("B", 216, 10), ("C", 445, 9), ("D", 8, 260), ("E", 447, 289), ("F", 447, 465), ("G", 446, 808), ("H", 8, 518), ("I", 3, 1030)]:
    T(s, x_, y_, 17, "#000", "center", 0, True)

fig.update_layout(template="none", width=W, height=H, margin=dict(l=0, r=0, t=0, b=0, pad=0), plot_bgcolor="white", paper_bgcolor="white", showlegend=False,
                  autosize=False, font=dict(family=FONT), shapes=shapes, annotations=annots, **layout_axes)
fig.write_html("out.html", config=dict(displayModeBar=False),
               post_script="document.body.style.margin='0';document.documentElement.style.overflow='hidden';window.dispatchEvent(new Event('resize'));")
